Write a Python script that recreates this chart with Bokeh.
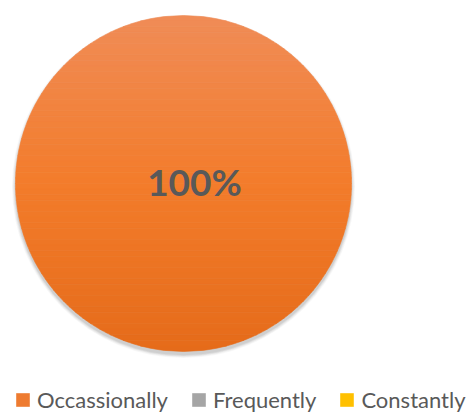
import numpy as np
from bokeh.plotting import figure
from bokeh.models import Range1d, Legend, LegendItem, ColumnDataSource
from bokeh.core.properties import value
from bokeh.embed import file_html
from bokeh.resources import INLINE

categories = ["Occassionally", "Frequently", "Constantly"]
shares = [100, 0, 0]
colors = ["#F07D2E", "#A5A5A5", "#FFC000"]
legend_colors = ["#EE7B30", "#A5A5A5", "#FFC000"]

W, H = 470, 412
p = figure(width=W, height=H, output_backend="svg", toolbar_location=None,
           x_range=Range1d(0, W), y_range=Range1d(0, H), min_border=0)
p.axis.visible = False
p.grid.visible = False
p.outline_line_color = None
p.background_fill_color = "white"
p.border_fill_color = "white"

cx, cy, R = 183, 229, 168

# soft drop shadow
for k, a in [(5, 0.05), (4, 0.06), (3, 0.08), (2, 0.10), (1, 0.12)]:
    p.circle(x=cx, y=cy - 3, radius=R + k * 0.7, fill_color="#7a7a7a",
             fill_alpha=a, line_color=None)

total = sum(shares)
ends = np.cumsum(shares) / total * 2 * np.pi
starts = np.concatenate([[0], ends[:-1]])
src = ColumnDataSource(dict(cat=categories, start=np.pi / 2 - starts,
                            end=np.pi / 2 - ends, color=colors, share=shares))
for i, c in enumerate(categories):
    if shares[i] > 0:
        p.wedge(x=cx, y=cy, radius=R, start_angle=src.data["end"][i],
                end_angle=src.data["start"][i], fill_color=colors[i], line_color=None)

# vertical gradient over the filled slice (top light -> bottom dark)
top = np.array([0xF0, 0x8C, 0x57])
bot = np.array([0xE5, 0x6B, 0x1A])
mid = np.array([0xF3, 0x7C, 0x2B])
N = 60
xs, ys, cols = [], [], []
for j in range(N):
    y0 = cy + R - j * 2 * R / N
    y1 = cy + R - (j + 1) * 2 * R / N
    yy = np.linspace(y0, y1, 6)
    hw = np.sqrt(np.clip(R ** 2 - (yy - cy) ** 2, 0, None))
    xs.append(list(cx - hw) + list(cx + hw[::-1]))
    ys.append(list(yy) + list(yy[::-1]))
    t = (j + 0.5) / N
    if t < 0.5:
        c = top + (mid - top) * (t / 0.5)
    else:
        c = mid + (bot - mid) * ((t - 0.5) / 0.5)
    cols.append("#%02x%02x%02x" % tuple(int(round(v)) for v in c))
p.patches(xs=xs, ys=ys, fill_color=cols, line_color=cols, line_width=0.6)

# data label
p.text(x=[cx], y=[cy], text=[f"{shares[0]}%"], x_offset=11, y_offset=-2,
       text_align="center", text_baseline="middle", text_font=value("Lato"),
       text_font_style="bold", text_font_size="37px", text_color="#595959")

# legend
items = []
for i, c in enumerate(categories):
    g = p.quad(left=[-20], right=[-10], bottom=[-20], top=[-10],
               fill_color=legend_colors[i], line_color=None)
    items.append(LegendItem(label=c, renderers=[g]))
legend = Legend(items=items, orientation="horizontal", location=(14, -1),
                glyph_width=17, glyph_height=17, label_standoff=6, spacing=22,
                padding=0, margin=0, border_line_color=None,
                background_fill_alpha=0, label_text_font="Lato",
                label_text_font_size="22px", label_text_color="#595959")
p.add_layout(legend)

open("out.html", "w").write(file_html(p, INLINE))
